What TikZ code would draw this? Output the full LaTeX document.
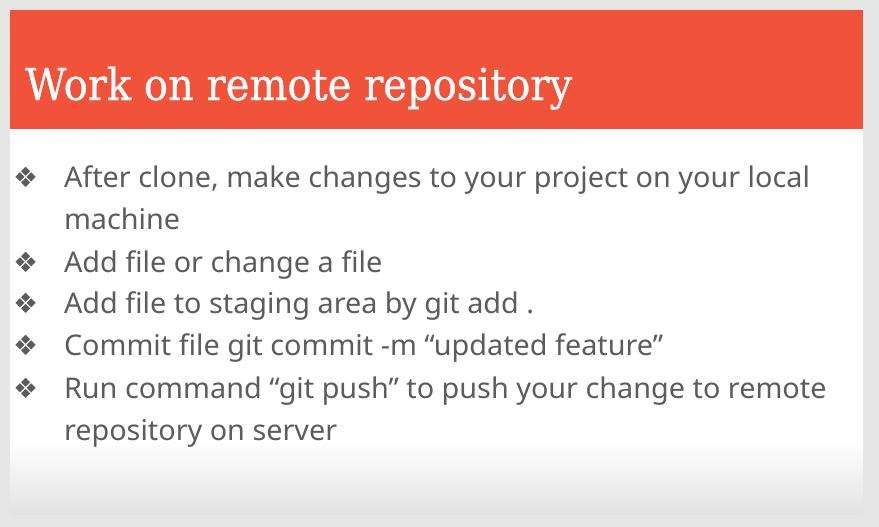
\documentclass[tikz,border=0pt]{standalone}
\usepackage{fontspec}
\usepackage{graphicx}
\setmainfont{Noto Sans}
\newfontfamily\titlefont[FakeBold=0.7]{DejaVu Serif}
\newfontfamily\symfont{DejaVu Sans}
\definecolor{outer}{HTML}{E6E6E6}
\definecolor{band}{HTML}{F05339}
\definecolor{bodytext}{HTML}{5C5C5C}
\definecolor{slidebottom}{HTML}{E3E3E3}
\newsavebox\measbox
\newcommand\bodyfont{\fontsize{28.5}{34}\selectfont}
\begin{document}
\sbox\measbox{\bodyfont After clone, make changes to your project on your local}%
\pgfmathsetmacro\bfac{746/\the\wd\measbox}%
\sbox\measbox{\titlefont\fontsize{44}{50}\selectfont Work on remote repository}%
\pgfmathsetmacro\tfac{547/\the\wd\measbox}%
\begin{tikzpicture}[x=1pt,y=-1pt,
  txt/.style={anchor=base west,inner sep=0pt,outer sep=0pt,text=bodytext,font=\bodyfont},
  bul/.style={anchor=base west,inner sep=0pt,outer sep=0pt,text=bodytext,font=\symfont\fontsize{28}{28}\selectfont}]
\useasboundingbox (0,0) rectangle (879,527);
\fill[outer] (0,0) rectangle (879,527);
\fill[white] (10,10) rectangle (863,440);
\shade[top color=white,bottom color=slidebottom] (10,440) rectangle (863,514);
\fill[band] (10,10) rectangle (863,129);
\node[anchor=base west,inner sep=0pt,text=white,font=\titlefont\fontsize{44}{50}\selectfont] (title) at (25,100) {\scalebox{\tfac}[1]{Work on remote repository}};
\node[bul] (b1) at (13,187) {❖};
\node[bul] (b2) at (13,272) {❖};
\node[bul] (b3) at (13,313) {❖};
\node[bul] (b4) at (13,355) {❖};
\node[bul] (b5) at (13,398) {❖};
\node[txt] (l1) at (64,187) {\scalebox{\bfac}[1]{After clone, make changes to your project on your local}};
\node[txt] (l1b) at (64,229) {\scalebox{\bfac}[1]{machine}};
\node[txt] (l2) at (64,272) {\scalebox{\bfac}[1]{Add file or change a file}};
\node[txt] (l3) at (64,313) {\scalebox{\bfac}[1]{Add file to staging area by git add .}};
\node[txt] (l4) at (64,355) {\scalebox{\bfac}[1]{Commit file git commit -m “updated feature”}};
\node[txt] (l5) at (64,398) {\scalebox{\bfac}[1]{Run command “git push” to push your change to remote}};
\node[txt] (l5b) at (64,440) {\scalebox{\bfac}[1]{repository on server}};
\end{tikzpicture}
\end{document}
